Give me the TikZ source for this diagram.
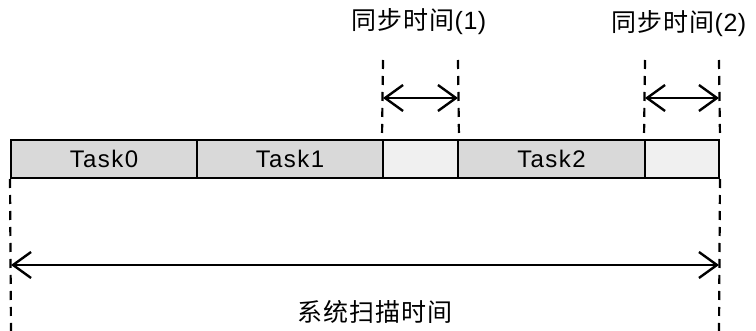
\documentclass[tikz,border=0pt]{standalone}
\usepackage{fontspec}
\setmainfont{Liberation Sans}
\newfontfamily\cjk[LetterSpace=4]{Noto Sans CJK SC}
\newfontfamily\cjklat[LetterSpace=2]{Liberation Sans}
\newfontfamily\tasklat[LetterSpace=6]{Liberation Sans}
\usetikzlibrary{arrows.meta}
\begin{document}
\begin{tikzpicture}[x=1pt,y=-1pt,
  taskbox/.style={draw=black,line width=2pt,fill=black!15,minimum height=38pt,inner sep=0pt,font=\tasklat\fontsize{24}{26}\selectfont},
  syncbox/.style={draw=black,line width=2pt,fill=black!6,minimum height=38pt,inner sep=0pt},
  guide/.style={line width=2.2pt,dash pattern=on 9pt off 7pt},
  span/.style={line width=2.4pt,{Straight Barb[length=18pt,width=26pt,line width=2.4pt]}-{Straight Barb[length=18pt,width=26pt,line width=2.4pt]}},
  lbl/.style={font=\cjk\fontsize{25}{28}\selectfont,inner sep=0pt}]
\useasboundingbox (0,0) rectangle (756,331);
\node[taskbox,minimum width=186pt] (t0) at (104,159) {Task0};
\node[taskbox,minimum width=186pt] (t1) at (290,159) {Task1};
\node[syncbox,minimum width=75pt] (s1) at (420.5,159) {};
\node[taskbox,minimum width=187pt] (t2) at (551.5,159) {Task2};
\node[syncbox,minimum width=74pt] (s2) at (682,159) {};
% guide lines
\coordinate (a1) at (383,60);
\coordinate (a2) at (458,60);
\coordinate (b1) at (645,60);
\coordinate (b2) at (719,60);
\coordinate (c1) at (11,331);
\coordinate (c2) at (719,331);
\draw[guide] (a1) -- (s1.north west);
\draw[guide] (a2) -- (s1.north east);
\draw[guide] (b1) -- (s2.north west);
\draw[guide] (b2) -- (s2.north east);
\draw[guide] (t0.south west) -- (c1);
\draw[guide] (s2.south east) -- (c2);
% spans
\coordinate (p1) at (383,98);
\coordinate (p2) at (458,98);
\coordinate (q1) at (645,98);
\coordinate (q2) at (719,98);
\coordinate (r1) at (11,265);
\coordinate (r2) at (719,265);
\draw[span] (p1) -- (p2);
\draw[span] (q1) -- (q2);
\draw[span] (r1) -- (r2);
% labels
\node[lbl] (l1) at (419,22) {同步时间\cjklat(1)};
\node[lbl] (l2) at (679,24) {同步时间\cjklat(2)};
\node[lbl] (l3) at (375,312) {系统扫描时间};
\end{tikzpicture}
\end{document}
